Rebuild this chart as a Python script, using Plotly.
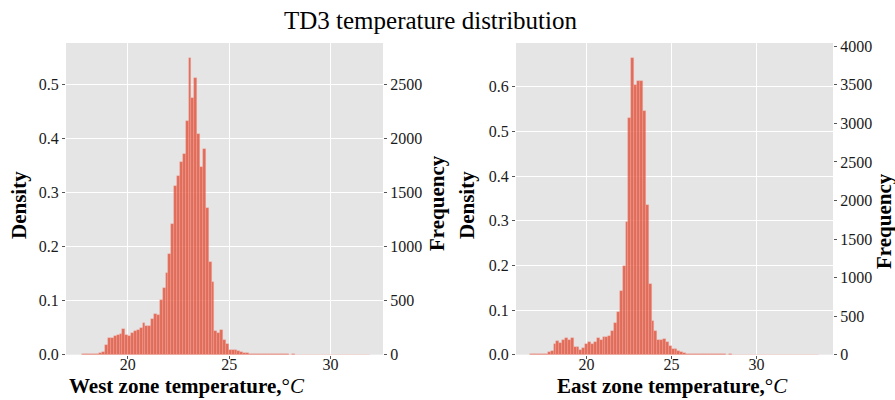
import numpy as np
import plotly.graph_objects as go

# West zone histogram: 100 bins, density values
west_start = 17.75
west_width = 0.1418
west_density = [
    0.0005, 0.001, 0.001, 0.001, 0.0015, 0.002, 0.003, 0.005, 0.018, 0.031,
    0.031, 0.035, 0.036, 0.038, 0.048, 0.036, 0.035, 0.041, 0.044, 0.046,
    0.049, 0.058, 0.053, 0.053, 0.066, 0.075, 0.074, 0.101, 0.123, 0.152,
    0.187, 0.242, 0.312, 0.331, 0.357, 0.371, 0.432, 0.549, 0.475, 0.512,
    0.409, 0.348, 0.380, 0.272, 0.172, 0.134, 0.044, 0.040, 0.046, 0.027,
    0.019, 0.009, 0.009, 0.009, 0.007, 0.005, 0.004, 0.003, 0.002, 0.002,
    0.002, 0.001, 0.0015, 0.001, 0.001, 0.0005, 0.001, 0.0015, 0.0005, 0.001,
    0.0005, 0.0005, 0.0003, 0.0005, 0, 0.0003, 0, 0.0003, 0, 0,
    0.0003, 0, 0, 0, 0.0003, 0, 0, 0, 0, 0.0003,
    0, 0, 0, 0, 0, 0.0003, 0, 0, 0, 0.0003,
]
west_count_per_density = 5000

# East zone histogram
east_start = 16.71
east_width = 0.1695
east_density = [
    0.0005, 0.0005, 0.001, 0.0015, 0.0015, 0.002, 0.005, 0.008, 0.023, 0.031,
    0.026, 0.033, 0.037, 0.033, 0.037, 0.018, 0.018, 0.010, 0.014, 0.023,
    0.028, 0.023, 0.029, 0.037, 0.034, 0.039, 0.040, 0.042, 0.053, 0.070,
    0.095, 0.143, 0.199, 0.298, 0.531, 0.665, 0.604, 0.613, 0.613, 0.547,
    0.336, 0.159, 0.076, 0.053, 0.033, 0.033, 0.035, 0.029, 0.019, 0.012,
    0.012, 0.008, 0.005, 0.003, 0.002, 0.002, 0.0015, 0.0015, 0.002, 0.001,
    0.0015, 0.001, 0.001, 0.0005, 0.001, 0.0005, 0.0005, 0.0005, 0.0003, 0.0005,
    0, 0.0003, 0, 0.0003, 0, 0, 0.0003, 0, 0, 0.0003,
    0, 0, 0, 0.0003, 0, 0, 0, 0, 0.0003, 0,
    0, 0, 0, 0, 0, 0.0003, 0, 0, 0, 0.0003,
]
east_count_per_density = 5790

density_ticks_west = [0.0, 0.1, 0.2, 0.3, 0.4, 0.5]
density_ticks_east = [0.0, 0.1, 0.2, 0.3, 0.4, 0.5, 0.6]
temp_ticks = [20, 25, 30]

FONT = "Liberation Serif"
bar_fill = "rgba(226,74,51,0.78)"
bar_edge = "rgba(245,180,170,0.5)"

west_x = west_start + west_width * (np.arange(len(west_density)) + 0.5)
east_x = east_start + east_width * (np.arange(len(east_density)) + 0.5)
west_count = np.array(west_density) * west_count_per_density
east_count = np.array(east_density) * east_count_per_density

fig = go.Figure()

fig.add_trace(go.Bar(x=west_x, y=west_density, width=west_width,
                     marker=dict(color=bar_fill, line=dict(color=bar_edge, width=0.6)),
                     xaxis="x", yaxis="y", showlegend=False))
fig.add_trace(go.Scatter(x=west_x, y=west_count, mode="lines", opacity=0,
                         line=dict(width=0), hoverinfo="skip",
                         xaxis="x", yaxis="y2", showlegend=False))
fig.add_trace(go.Bar(x=east_x, y=east_density, width=east_width,
                     marker=dict(color=bar_fill, line=dict(color=bar_edge, width=0.6)),
                     xaxis="x2", yaxis="y3", showlegend=False))
fig.add_trace(go.Scatter(x=east_x, y=east_count, mode="lines", opacity=0,
                         line=dict(width=0), hoverinfo="skip",
                         xaxis="x2", yaxis="y4", showlegend=False))

W, H = 895, 400
y_dom = [1 - 354.7 / H, 1 - 43 / H]
tick_font = dict(family=FONT, size=16, color="#1a1a1a")
common_x = dict(tickvals=temp_ticks, showgrid=True, gridcolor="white", gridwidth=1.2,
                zeroline=False, showline=False, ticks="outside", ticklen=3,
                tickcolor="#555", tickfont=tick_font, ticklabelstandoff=-8)
common_y = dict(showgrid=True, gridcolor="white", gridwidth=1.2, zeroline=False,
                showline=False, ticks="outside", ticklen=3, tickcolor="#555",
                tickformat=".1f", tickfont=tick_font)
freq_y = dict(showgrid=False, zeroline=False, showline=False, ticks="outside",
              ticklen=3, tickcolor="#555", dtick=500, tickfont=tick_font, side="right")

wmax = max(west_density) * 1.05
emax = max(east_density) * 1.05

fig.update_layout(
    width=W, height=H,
    margin=dict(l=0, r=0, t=0, b=0, autoexpand=False),
    paper_bgcolor="white", plot_bgcolor="#E5E5E5",
    barmode="overlay", bargap=0,
    xaxis=dict(domain=[66 / W, 383 / W], anchor="y", range=[16.95, 32.59], **common_x),
    yaxis=dict(domain=y_dom, anchor="x", range=[0, wmax], tickvals=density_ticks_west, **common_y),
    yaxis2=dict(overlaying="y", anchor="x", range=[0, wmax * west_count_per_density], **freq_y),
    xaxis2=dict(domain=[516 / W, 833 / W], anchor="y3", range=[15.86, 34.5], **common_x),
    yaxis3=dict(domain=y_dom, anchor="x2", range=[0, emax], tickvals=density_ticks_east, **common_y),
    yaxis4=dict(overlaying="y3", anchor="x2", range=[0, emax * east_count_per_density], **freq_y),
)

title_font = dict(family=FONT, size=21, color="black")
annotations = [
    dict(text="TD3 temperature distribution", x=430 / W, y=1 - 20 / H,
         font=dict(family=FONT, size=25, color="black")),
    dict(text="<b>Density</b>", x=19 / W, y=1 - 205 / H, textangle=-90, font=title_font),
    dict(text="<b>Frequency</b>", x=437 / W, y=1 - 203 / H, textangle=-90, font=title_font),
    dict(text="<b>Density</b>", x=467 / W, y=1 - 205 / H, textangle=-90, font=title_font),
    dict(text="<b>Frequency</b>", x=884 / W, y=1 - 221 / H, textangle=-90, font=title_font),
    dict(text="<b>West zone temperature,</b>°<i>C</i>", x=187 / W, y=1 - 386 / H, font=title_font),
    dict(text="<b>East zone temperature,</b>°<i>C</i>", x=672 / W, y=1 - 386 / H, font=title_font),
]
for a in annotations:
    fig.add_annotation(xref="paper", yref="paper", showarrow=False,
                       xanchor="center", yanchor="middle", **a)

# drop the default page margin so the figure sits at the window's top-left corner
fig.write_html("out.html", config={"displayModeBar": False},
               post_script="document.body.style.margin = '0';")
